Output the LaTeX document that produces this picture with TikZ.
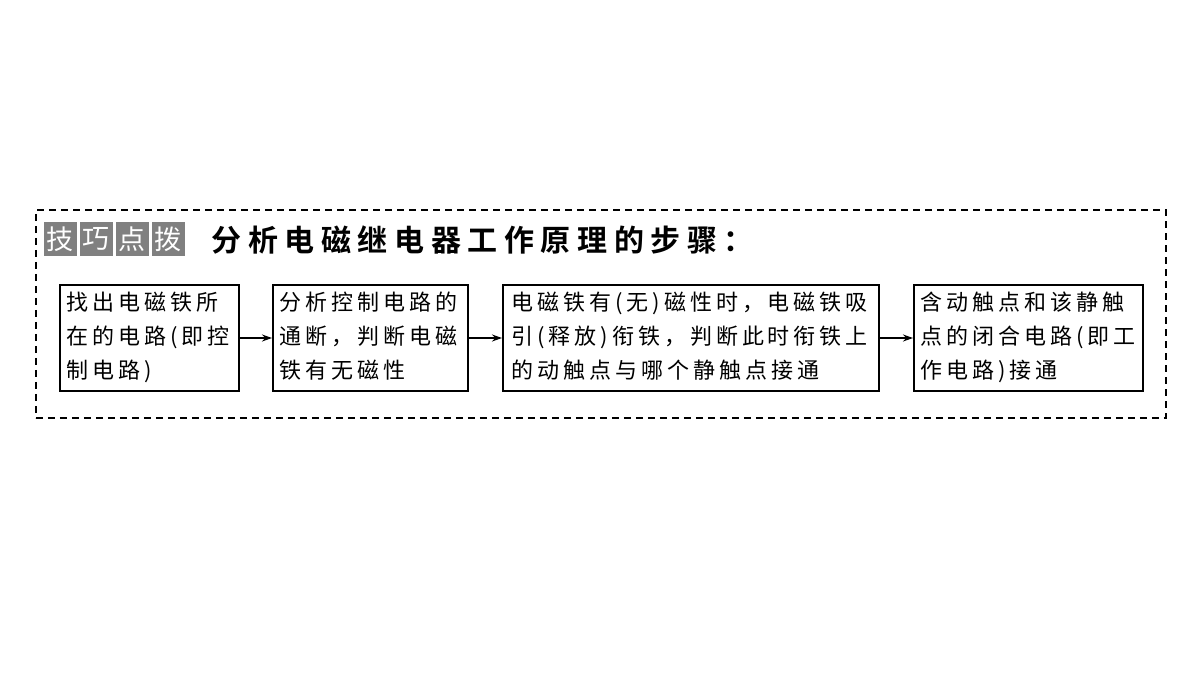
\documentclass[tikz,border=0pt]{standalone}
\usepackage{fontspec}
\usetikzlibrary{arrows.meta}
\newfontfamily\cjk[LetterSpace=18]{Noto Sans CJK SC}
\newfontfamily\cjkt[LetterSpace=22]{Noto Sans CJK SC Bold}
\newfontfamily\cjkb{Noto Sans CJK SC}
\begin{document}
\begin{tikzpicture}[x=1pt,y=-1pt,
  stepbox/.style={draw,line width=2pt,anchor=north west,inner sep=0pt,align=left,font=\cjk\fontsize{22}{34}\selectfont},
  badge/.style={fill=black!50,text=white,minimum width=33pt,minimum height=34pt,inner sep=0pt,font=\cjkb\fontsize{27}{27}\selectfont},
  arr/.style={-{Stealth[length=10pt,width=7pt]},line width=1.6pt}]
\useasboundingbox (0,0) rectangle (1200,675);
\node[draw,line width=1.8pt,minimum width=1130pt,minimum height=208pt,anchor=north west,dash pattern=on 7pt off 5pt] (frame) at (35,209) {};
\foreach \c [count=\i] in {技,巧,点,拨}
  \node[badge] (b\i) at (44+36*\i-36+16,239) {\c};
\node[anchor=west,font=\cjkt\fontsize{30}{30}\selectfont] (title) at (208,240) {分析电磁继电器工作原理的步骤：};
\node[stepbox,minimum width=179pt,minimum height=106pt] (s1) at (59,284) {};
\node[anchor=north west,align=left,font=\cjk\fontsize{22}{34}\selectfont] at (63,288) {找出电磁铁所\\在的电路(即控\\制电路)};
\node[stepbox,minimum width=195pt,minimum height=106pt] (s2) at (272,284) {};
\node[anchor=north west,align=left,font=\cjk\fontsize{22}{34}\selectfont] at (276,288) {分析控制电路的\\通断，判断电磁\\铁有无磁性};
\node[stepbox,minimum width=376pt,minimum height=106pt] (s3) at (502,284) {};
\node[anchor=north west,align=left,font=\cjk\fontsize{22}{34}\selectfont] at (508,288) {电磁铁有(无)磁性时，电磁铁吸\\引(释放)衔铁，判断此时衔铁上\\的动触点与哪个静触点接通};
\node[stepbox,minimum width=229pt,minimum height=106pt] (s4) at (913,284) {};
\node[anchor=north west,align=left,font=\cjk\fontsize{22}{34}\selectfont] at (917,288) {含动触点和该静触\\点的闭合电路(即工\\作电路)接通};
\draw[arr] (s1.east) -- (s2.west);
\draw[arr] (s2.east) -- (s3.west);
\draw[arr] (s3.east) -- (s4.west);
\end{tikzpicture}
\end{document}
